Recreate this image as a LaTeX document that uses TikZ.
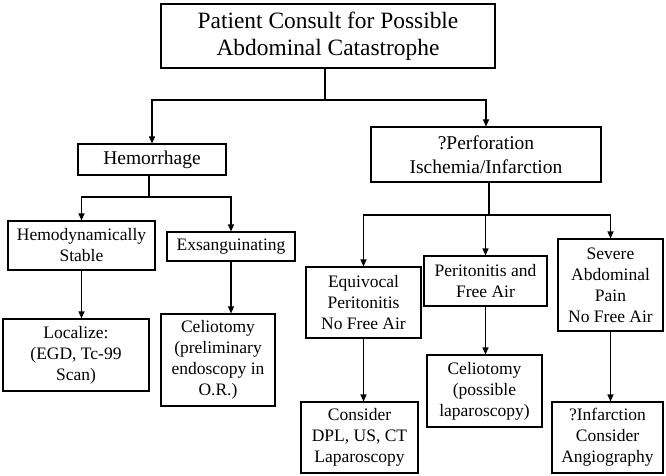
\documentclass[tikz,border=0pt]{standalone}
\usepackage{fontspec}
\setmainfont{Liberation Serif}
\usetikzlibrary{arrows.meta}
\begin{document}
\begin{tikzpicture}[x=1pt,y=-1pt,
  box/.style={draw,line width=1.1pt,inner sep=0pt,align=center,
    font=\fontsize{17.5}{21}\selectfont},
  midbox/.style={box,font=\fontsize{19.5}{24}\selectfont},
  topbox/.style={box,font=\fontsize{23.4}{27}\selectfont},
  link/.style={line width=1.1pt},
  arr/.style={link,-{Triangle[length=7pt,width=6pt]}}]
\useasboundingbox[fill=white] (0,0) rectangle (666,476);
% boxes
\node[topbox,minimum width=334pt,minimum height=64pt] (top) at (328,36)
  {Patient Consult for Possible\\Abdominal Catastrophe};
\node[midbox,minimum width=148pt,minimum height=31pt] (hem) at (152,159.5) {Hemorrhage};
\node[midbox,minimum width=230pt,minimum height=55pt] (perf) at (486,154.5)
  {?Perforation\\Ischemia/Infarction};
\node[box,minimum width=147pt,minimum height=49pt] (hs) at (81.5,245.5)
  {Hemodynamically\\Stable};
\node[box,minimum width=128pt,minimum height=29pt] (ex) at (231,246.5) {Exsanguinating};
\node[box,minimum width=146pt,minimum height=72pt] (loc) at (76,355)
  {Localize:\\(EGD, Tc-99\\Scan)};
\node[box,minimum width=114pt,minimum height=92pt] (cel) at (218,360)
  {Celiotomy\\(preliminary\\endoscopy in\\O.R.)};
\node[box,minimum width=115pt,minimum height=71pt] (eq) at (363.5,302.5)
  {Equivocal\\Peritonitis\\No Free Air};
\node[box,minimum width=123pt,minimum height=50pt] (per) at (485.5,281)
  {Peritonitis and\\Free Air};
\node[box,minimum width=105pt,minimum height=92pt] (sev) at (610.5,285)
  {Severe\\Abdominal\\Pain\\No Free Air};
\node[box,minimum width=117pt,minimum height=71pt] (con) at (359.5,437.5)
  {Consider\\DPL, US, CT\\Laparoscopy};
\node[box,minimum width=115pt,minimum height=72pt] (cel2) at (484.5,391)
  {Celiotomy\\(possible\\laparoscopy)};
\node[box,minimum width=111pt,minimum height=71pt] (inf) at (607.5,437.5)
  {?Infarction\\Consider\\Angiography};
% connectors
\coordinate (j1) at (325,100);
\draw[link] (top.south -| j1) -- (j1);
\draw[arr] (j1) -| (hem.north);
\draw[arr] (j1) -| (perf.north);
\coordinate (j2) at (149,197);
\draw[link] (hem.south -| j2) -- (j2);
\draw[arr] (j2) -| (hs.north);
\draw[arr] (j2) -| (ex.north);
\draw[arr] (hs.south) -- (hs.south |- loc.north);
\draw[arr] (ex.south) -- (ex.south |- cel.north);
\coordinate (j3) at (489,215);
\draw[link] (perf.south -| j3) -- (j3);
\draw[arr] (j3) -| (eq.north);
\draw[arr] (j3) -| (per.north);
\draw[arr] (j3) -| (sev.north);
\draw[arr] (eq.south) -- (eq.south |- con.north);
\draw[arr] (per.south) -- (per.south |- cel2.north);
\draw[arr] (sev.south) -- (sev.south |- inf.north);
\end{tikzpicture}
\end{document}
